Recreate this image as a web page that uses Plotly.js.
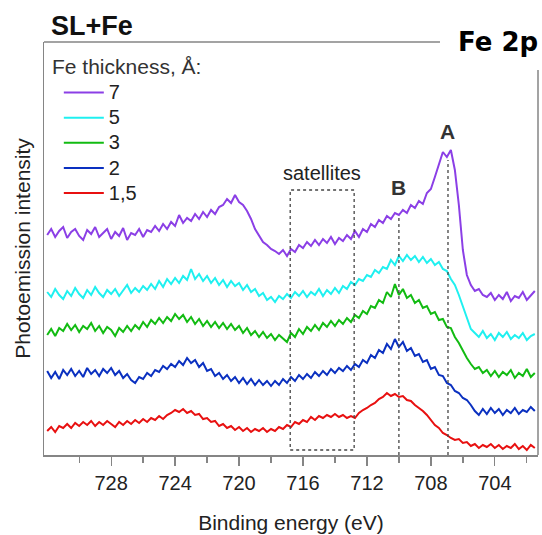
<!DOCTYPE html>
<html>
<head>
<meta charset="utf-8">
<script src="https://cdn.plot.ly/plotly-3.0.1.min.js"></script>
<style>html,body{margin:0;padding:0;background:#fff;}#chart{width:542px;height:535px;}</style>
</head>
<body>
<div id="chart"></div>
<script>
// Binding energy sampling: first point and step (eV)
const energyStart = 732;
const energyStep = -0.25;

const thicknessLabels = ["7", "5", "3", "2", "1,5"];
const seriesColors = ["#8b3fe6", "#1ff0f0", "#12bb12", "#0a30c0", "#e81010"];

// Photoemission intensity (arbitrary units, vertically offset), 732 → 701.5 eV
const fe7 = [220,226,218,224,228,217,223,226,219,215,225,221,228,218,222,226,216,223,219,227,
215,222,220,226,218,225,223,229,224,231,226,233,229,240,232,237,234,241,236,243,
238,245,241,248,250,256,252,260,253,250,244,236,226,220,213,210,206,204,201,205,
199,206,203,210,207,213,209,215,210,216,212,218,211,217,214,220,216,224,218,226,
223,231,228,235,232,239,236,242,240,245,242,250,247,254,251,262,266,278,290,303,
298,305,285,250,205,180,170,164,166,160,158,162,155,160,156,163,154,159,157,163,
155,160,164];
const fe5 = [163,158,166,160,156,164,159,167,161,157,165,160,168,162,158,165,161,166,159,164,
170,162,167,163,169,165,171,166,174,168,176,171,177,172,179,175,186,176,181,174,
179,172,177,170,175,168,174,169,172,165,170,163,166,159,162,155,158,153,159,156,
161,157,163,159,164,158,163,160,166,159,165,161,167,162,169,166,173,170,176,174,
180,178,185,182,188,186,195,190,199,194,200,195,199,193,198,192,196,190,193,186,
184,176,170,160,148,136,126,122,118,124,117,121,115,122,118,123,116,120,117,122,
115,119,121];
const fe3 = [120,126,119,127,124,131,125,130,123,129,126,132,124,129,122,128,125,119,127,123,
129,124,130,126,133,128,135,131,137,132,138,134,141,136,140,133,138,131,136,129,
134,128,133,127,132,126,131,125,129,122,127,120,124,118,123,117,121,115,120,116,
113,122,118,126,121,128,124,130,125,132,128,134,129,135,131,137,133,140,137,144,
141,149,147,155,152,163,158,171,160,166,157,160,152,155,147,149,141,143,135,136,
128,127,118,112,104,97,91,86,88,82,85,79,84,78,83,80,85,77,82,79,
86,78,82];
const fe2 = [84,77,83,76,85,80,86,79,84,78,87,81,85,79,86,82,87,80,84,77,
81,75,72,78,76,82,79,85,83,89,86,91,88,94,90,97,92,95,88,92,
84,86,79,82,76,80,74,78,72,77,71,76,70,75,70,74,69,74,70,76,
72,78,74,80,76,81,77,83,79,84,80,86,82,87,84,89,85,91,88,95,
92,100,97,105,102,111,106,116,108,113,104,107,99,101,93,95,86,88,80,79,
72,70,64,62,57,55,50,44,40,46,41,47,42,46,40,45,42,47,41,45,
43,48,44];
const fe15 = [24,28,23,29,27,31,27,32,29,33,30,34,29,33,30,34,31,28,33,30,
34,31,35,32,36,33,37,35,39,36,40,42,45,43,46,42,44,40,41,36,
37,33,34,29,31,27,29,25,28,24,27,23,26,24,27,23,26,24,28,26,
30,28,33,31,35,33,38,35,39,37,40,38,41,38,40,37,39,37,42,45,
47,50,52,56,58,62,59,61,58,59,55,54,50,47,44,40,35,30,27,22,
20,17,15,16,12,13,9,11,7,10,8,11,7,10,6,9,7,11,6,9,
5,10,7];
const allSeries = [fe7, fe5, fe3, fe2, fe15];

// Axis ticks
const tickValues = [728, 724, 720, 716, 712, 708, 704];
const tickLabels = ["728", "724", "720", "716", "712", "708", "704"];
const xRange = [732.2, 701.3];
const yRange = [0, 413];

// Reference markers (eV, intensity)
const satellitesBox = {e0: 716.8, e1: 712.8, i0: 5, i1: 265};
const peakB = {e: 710.0, top: 240, labelI: 268};
const peakA = {e: 706.93, top: 295, labelI: 324};

const traces = allSeries.map((vals, k) => ({
  type: "scatter",
  mode: "lines",
  x0: energyStart,
  dx: energyStep,
  y: vals,
  name: '<span style="font-size:20px">' + thicknessLabels[k] + '</span>',
  line: {color: seriesColors[k], width: 2},
  hoverinfo: "skip"
}));

const dotLine = {color: "#444", width: 1.3, dash: "dot"};
const axisGray = "#858585";

const layout = {
  width: 542, height: 535,
  margin: {l: 44, r: 4, t: 42, b: 80},
  paper_bgcolor: "#fff", plot_bgcolor: "#fff",
  font: {family: "Liberation Sans, Arial, sans-serif", color: "#222"},
  showlegend: true,
  legend: {
    x: 0.030, xanchor: "left", y: 0.920, yanchor: "top",
    bgcolor: "rgba(0,0,0,0)", borderwidth: 0,
    itemwidth: 40,
    font: {size: 17, color: "#222"}
  },
  xaxis: {
    range: xRange, autorange: false,
    tickmode: "array", tickvals: tickValues, ticktext: tickLabels,
    ticks: "outside", ticklen: 9, tickwidth: 1.3, tickcolor: axisGray,
    minor: {tickmode: "linear", tick0: 702, dtick: 4, ticks: "outside", ticklen: 6, tickwidth: 1.3, tickcolor: axisGray},
    showline: true, linecolor: axisGray, linewidth: 1.5,
    showgrid: false, zeroline: false,
    tickfont: {size: 20, color: "#222"},
    title: {text: "Binding energy (eV)", font: {size: 21, color: "#222"}, standoff: 23},
    automargin: false
  },
  yaxis: {
    range: yRange, autorange: false,
    showticklabels: false, ticks: "",
    showline: true, linecolor: axisGray, linewidth: 1.5,
    showgrid: false, zeroline: false,
    title: {text: "Photoemission intensity", font: {size: 21, color: "#222"}, standoff: 6},
    automargin: false
  },
  shapes: [
    {type: "line", xref: "paper", yref: "paper", x0: 0, x1: 0.8016, y0: 1, y1: 1, line: {color: axisGray, width: 1.5}},
    {type: "line", xref: "paper", yref: "paper", x0: 1, x1: 1, y0: 0, y1: 0.932, line: {color: axisGray, width: 1.5}},
    {type: "rect", xref: "x", yref: "y", x0: satellitesBox.e0, x1: satellitesBox.e1, y0: satellitesBox.i0, y1: satellitesBox.i1, line: dotLine},
    {type: "line", xref: "x", yref: "y", x0: peakB.e, x1: peakB.e, y0: 0, y1: peakB.top, line: dotLine},
    {type: "line", xref: "x", yref: "y", x0: peakA.e, x1: peakA.e, y0: 0, y1: peakA.top, line: dotLine}
  ],
  annotations: [
    {xref: "paper", yref: "paper", x: 0.010, y: 1.038, xanchor: "left", yanchor: "middle", showarrow: false,
     text: "<b>SL+Fe</b>", font: {size: 27, color: "#111", family: "Liberation Sans, Arial, sans-serif"}},
    {xref: "paper", yref: "paper", x: 1.005, y: 1.0, xanchor: "right", yanchor: "middle", showarrow: false,
     text: "<b>Fe 2p</b>", font: {size: 26, color: "#000", family: "DejaVu Sans, sans-serif"}},
    {xref: "paper", yref: "paper", x: 0.012, y: 0.9395, xanchor: "left", yanchor: "middle", showarrow: false,
     text: "Fe thickness, Å:", font: {size: 21, color: "#333"}},
    {xref: "x", yref: "y", x: (satellitesBox.e0 + satellitesBox.e1) / 2, y: 282, showarrow: false,
     text: "satellites", font: {size: 20, color: "#222"}},
    {xref: "x", yref: "y", x: peakB.e, y: peakB.labelI, showarrow: false,
     text: "<b>B</b>", font: {size: 21, color: "#333"}},
    {xref: "x", yref: "y", x: peakA.e, y: peakA.labelI, showarrow: false,
     text: "<b>A</b>", font: {size: 21, color: "#333"}}
  ]
};

Plotly.newPlot("chart", traces, layout, {displayModeBar: false, staticPlot: true});
</script>
</body>
</html>
